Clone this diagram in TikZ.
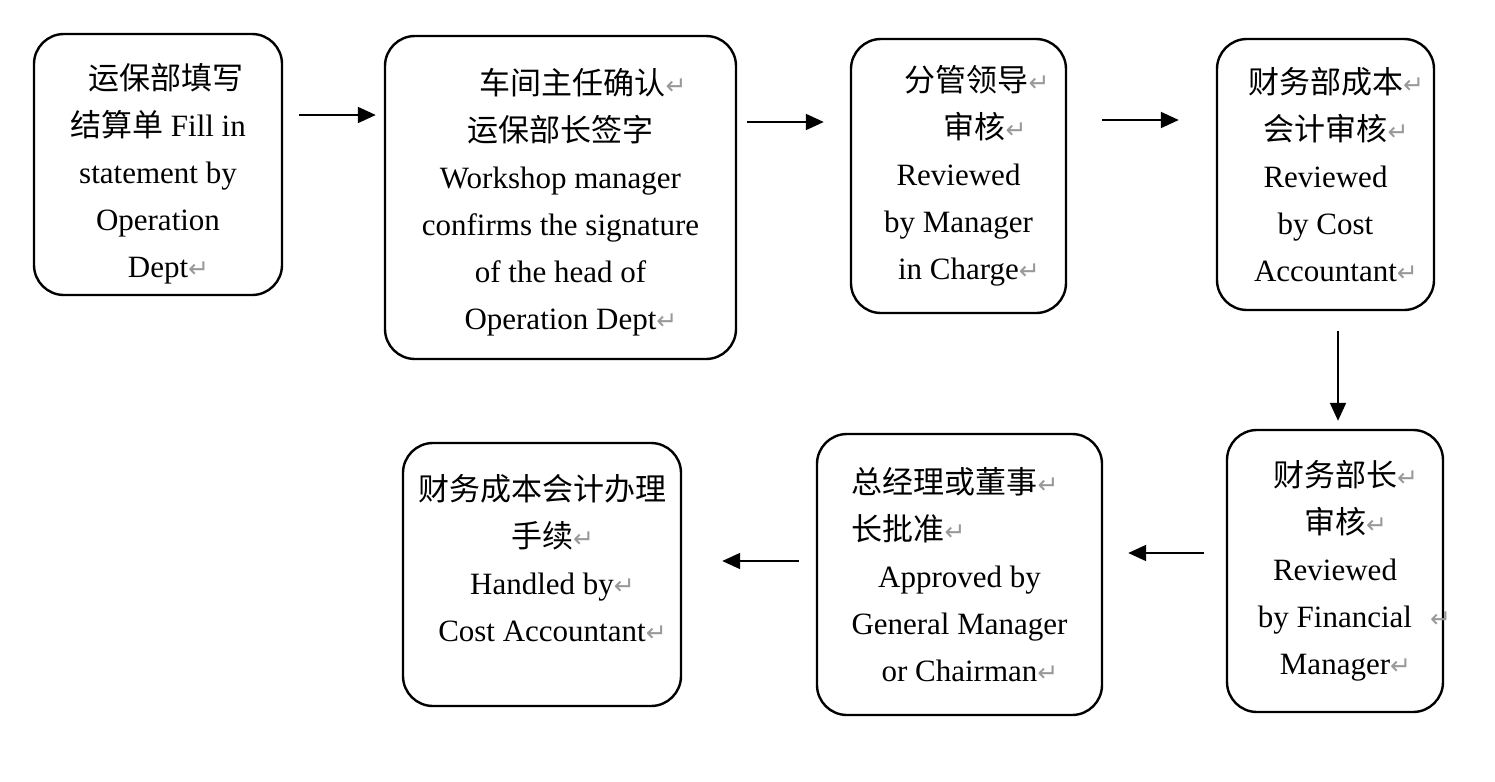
\documentclass[tikz,border=0pt]{standalone}
\usepackage{fontspec}
\setmainfont{Liberation Serif}
\newfontfamily\cjk{Noto Sans CJK SC}
\newfontfamily\markfont{DejaVu Sans}
\usetikzlibrary{arrows.meta}
\newcommand{\retmark}{{\markfont\fontsize{12.5}{12.5}\selectfont\color{black!40}↵}}
\newcommand{\ret}{\rlap{\retmark}}

\begin{document}
\begin{tikzpicture}[x=0.5pt,y=-0.5pt,
	box/.style={draw,line width=1.2pt,rounded corners=15pt,align=center,inner sep=0pt,
		font=\fontsize{15.5}{23.5}\selectfont},
	flow/.style={line width=1pt,-{Triangle[length=9pt,width=8pt]}}]
	
	\useasboundingbox (0,0) rectangle (1495,782);
	
	% top row
	\node[box,minimum width=124pt,minimum height=130.5pt] (fill) at (158,164.5)
		{\mbox{}\\[-1.5pt]\hspace{8pt}{\cjk 运保部填写}\\{\cjk 结算单} Fill in\\statement by\\Operation\\Dept\ret};
	\node[box,minimum width=175.5pt,minimum height=161.5pt] (confirm) at (560.5,197.5)
		{\mbox{}\\[-5.5pt]\hspace{12pt}{\cjk 车间主任确认}\ret\\{\cjk 运保部长签字}\\Workshop manager\\confirms the signature\\of the head of\\Operation Dept\ret};
	\node[box,minimum width=107.5pt,minimum height=137pt] (charge) at (958.5,176)
		{\hspace{8pt}{\cjk 分管领导}\ret\\\hspace{16pt}{\cjk 审核}\ret\\Reviewed\\by Manager\\in Charge\ret};
	\node[box,minimum width=108.5pt,minimum height=135.5pt] (cost) at (1325.5,174.5)
		{{\cjk 财务部成本}\ret\\{\cjk 会计审核}\ret\\Reviewed\\by Cost\\Accountant\ret};
	
	% bottom row
	\node[box,minimum width=108pt,minimum height=141pt] (finance) at (1335,571)
		{{\cjk 财务部长}\ret\\{\cjk 审核}\ret\\Reviewed\\by Financial\rlap{\hspace{9pt}\retmark}\\Manager\ret};
	\node[box,minimum width=142.5pt,minimum height=140.5pt] (approve) at (959.5,574.5)
		{\makebox[108pt][l]{{\cjk 总经理或董事}\ret}\\\makebox[108pt][l]{{\cjk 长批准}\ret}\\Approved by\\General Manager\\or Chairman\ret};
	\node[box,minimum width=139pt,minimum height=131.5pt] (handle) at (542,574.5)
		{{\cjk 财务成本会计办理}\\{\cjk 手续}\ret\\Handled by\ret\\Cost Accountant\ret\\[-7pt]\mbox{}};
	
	\draw[flow,shorten <=8pt,shorten >=4pt] ([yshift=24.75pt]fill.east) -- ([yshift=24.75pt]fill.east -| confirm.west);
	\draw[flow,shorten <=5pt,shorten >=13pt] ([yshift=37.75pt]confirm.east) -- ([yshift=37.75pt]confirm.east -| charge.west);
	\draw[flow,shorten <=17.5pt,shorten >=18.5pt] ([yshift=28pt]charge.east) -- ([yshift=28pt]charge.east -| cost.west);
	\draw[flow,shorten <=10pt,shorten >=4pt] ([xshift=6.25pt]cost.south) -- ([xshift=6.25pt]cost.south |- finance.north);
	\draw[flow,shorten <=11pt,shorten >=12.5pt] ([yshift=9pt]finance.west) -- ([yshift=9pt]finance.west -| approve.east);
	\draw[flow,shorten <=8.5pt,shorten >=20pt] ([yshift=6.75pt]approve.west) -- ([yshift=6.75pt]approve.west -| handle.east);
	
\end{tikzpicture}
\end{document}
